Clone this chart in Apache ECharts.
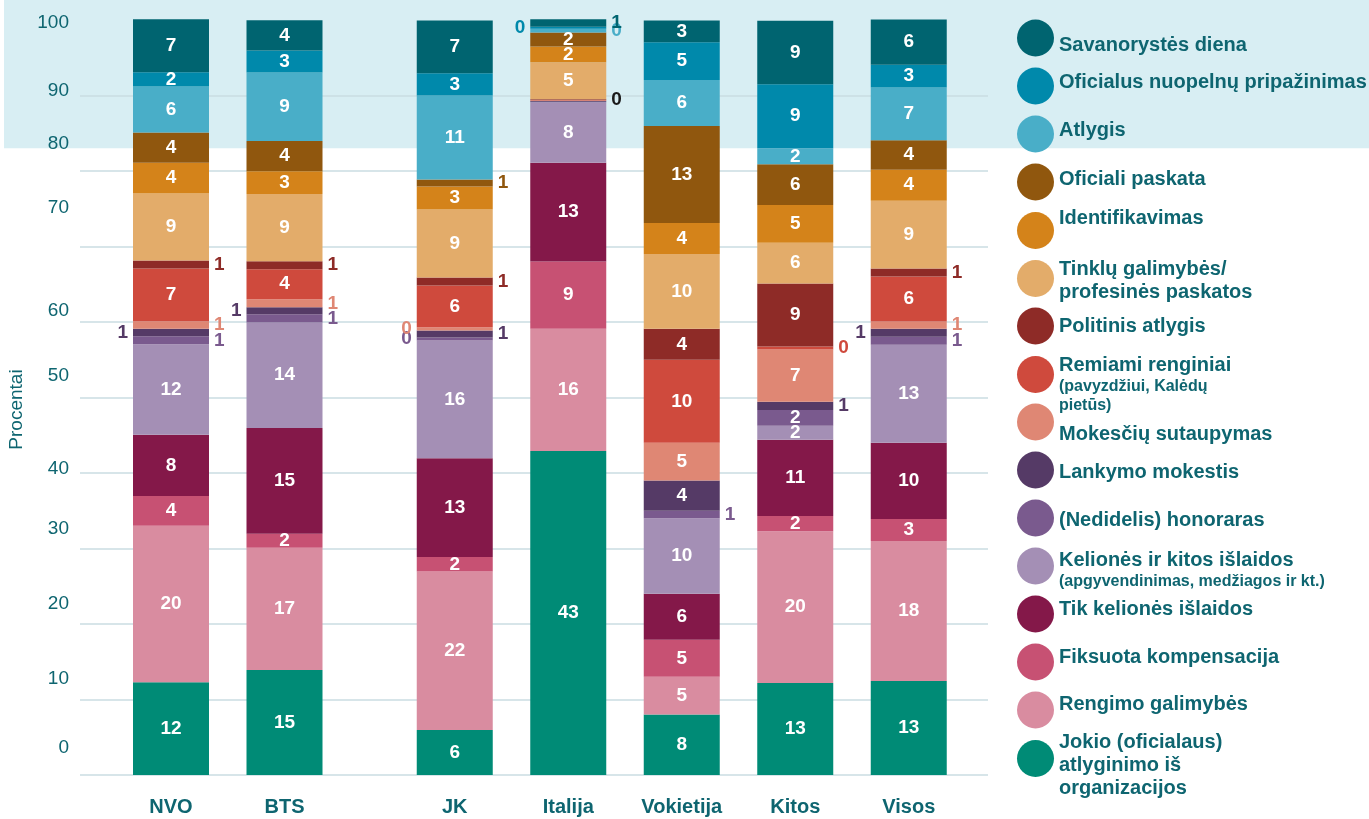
<!DOCTYPE html>
<html><head><meta charset="utf-8">
<script src="https://cdn.jsdelivr.net/npm/echarts@6/dist/echarts.min.js"></script>
<style>html,body{margin:0;padding:0;background:#fff}#c{width:1369px;height:819px}</style>
</head><body><div id="c"></div>
<script>
// ---------- DATA ----------
const categories = ['NVO', 'BTS', 'JK', 'Italija', 'Vokietija', 'Kitos', 'Visos'];
const groupSizes = [2, 5];
const yTicks = [0, 10, 20, 30, 40, 50, 60, 70, 80, 90, 100];
const bandFrom = 83;

// segment heights (percent), order = categories
const vSavanorystes = [7.0, 4.0, 7.0, 1.0, 2.9, 8.4, 6.0];
const vOficialus    = [1.9, 2.9, 2.95, 0.26, 5.0, 8.5, 3.0];
const vAtlygis      = [6.1, 9.1, 11.1, 0.5, 6.1, 2.1, 7.0];
const vPaskata      = [4.0, 4.0, 0.93, 1.85, 12.85, 5.4, 3.9];
const vIdentif      = [4.06, 3.0, 3.05, 2.1, 4.1, 5.0, 4.1];
const vTinklu       = [8.87, 8.9, 9.0, 4.9, 9.9, 5.4, 9.0];
const vPolitinis    = [1.06, 1.06, 1.06, 0.08, 4.1, 8.35, 1.06];
const vRemiami      = [7.0, 4.0, 5.56, 0.08, 11.0, 0.4, 5.96];
const vMokesciu     = [1.0, 1.06, 0.4, 0.08, 5.0, 6.9, 0.93];
const vLankymo      = [1.0, 0.93, 0.93, 0.08, 4.0, 1.1, 1.06];
const vHonoraras    = [1.05, 1.06, 0.4, 0.08, 1.0, 2.1, 1.06];
const vKelioniuKitos= [12.0, 14.0, 15.6, 8.0, 10.0, 1.85, 13.0];
const vTikKelioniu  = [8.08, 14.0, 13.1, 13.1, 6.1, 10.1, 10.1];
const vFiksuota     = [3.97, 1.85, 1.9, 8.9, 4.9, 2.0, 2.9];
const vRengimo      = [20.7, 16.2, 21.0, 16.2, 5.0, 20.1, 18.55];
const vJokio        = [12.3, 13.9, 5.96, 42.9, 8.0, 12.2, 12.45];

// printed labels, order = categories
const lSavanorystes = ['7', '4', '7', '1', '3', '9', '6'];
const lOficialus    = ['2', '3', '3', '0', '5', '9', '3'];
const lAtlygis      = ['6', '9', '11', '0', '6', '2', '7'];
const lPaskata      = ['4', '4', '1', '2', '13', '6', '4'];
const lIdentif      = ['4', '3', '3', '2', '4', '5', '4'];
const lTinklu       = ['9', '9', '9', '5', '10', '6', '9'];
const lPolitinis    = ['1', '1', '1', '0', '4', '9', '1'];
const lRemiami      = ['7', '4', '6', '', '10', '0', '6'];
const lMokesciu     = ['1', '1', '0', '', '5', '7', '1'];
const lLankymo      = ['1', '1', '1', '', '4', '1', '1'];
const lHonoraras    = ['1', '1', '0', '', '1', '2', '1'];
const lKelioniuKitos= ['12', '14', '16', '8', '10', '2', '13'];
const lTikKelioniu  = ['8', '15', '13', '13', '6', '11', '10'];
const lFiksuota     = ['4', '2', '2', '9', '5', '2', '3'];
const lRengimo      = ['20', '17', '22', '16', '5', '20', '18'];
const lJokio        = ['12', '15', '6', '43', '8', '13', '13'];

const seriesNames = ['Savanorystės diena', 'Oficialus nuopelnų pripažinimas', 'Atlygis', 'Oficiali paskata',
  'Identifikavimas', 'Tinklų galimybės/ profesinės paskatos', 'Politinis atlygis', 'Remiami renginiai',
  'Mokesčių sutaupymas', 'Lankymo mokestis', '(Nedidelis) honoraras', 'Kelionės ir kitos išlaidos',
  'Tik kelionės išlaidos', 'Fiksuota kompensacija', 'Rengimo galimybės', 'Jokio (oficialaus) atlyginimo iš organizacijos'];
const legendMainLines = {
  'Tinklų galimybės/ profesinės paskatos': ['Tinklų galimybės/', 'profesinės paskatos'],
  'Jokio (oficialaus) atlyginimo iš organizacijos': ['Jokio (oficialaus)', 'atlyginimo iš', 'organizacijos']
};
const legendSubLines = {
  'Remiami renginiai': ['(pavyzdžiui, Kalėdų', 'pietūs)'],
  'Kelionės ir kitos išlaidos': ['(apgyvendinimas, medžiagos ir kt.)']
};

// ---------- STYLE ----------
const F = '"Liberation Sans", Arial, Helvetica, sans-serif';
const T = '#0e6570';
const colors = ['#006470', '#0089ab', '#49aec8', '#90570e', '#d4831a', '#e3ac6a', '#8e2b27', '#cf4a3d',
  '#df8774', '#553a66', '#7a5a8e', '#a48fb5', '#841849', '#c75173', '#d98ca0', '#008b76'];
const values = [vSavanorystes, vOficialus, vAtlygis, vPaskata, vIdentif, vTinklu, vPolitinis, vRemiami,
  vMokesciu, vLankymo, vHonoraras, vKelioniuKitos, vTikKelioniu, vFiksuota, vRengimo, vJokio];
const labels = [lSavanorystes, lOficialus, lAtlygis, lPaskata, lIdentif, lTinklu, lPolitinis, lRemiami,
  lMokesciu, lLankymo, lHonoraras, lKelioniuKitos, lTikKelioniu, lFiksuota, lRengimo, lJokio];
const outsideLeft = ['Lankymo mokestis|NVO', 'Lankymo mokestis|BTS', 'Lankymo mokestis|Visos',
  'Mokesčių sutaupymas|JK', '(Nedidelis) honoraras|JK', 'Oficialus nuopelnų pripažinimas|Italija'];
const outsideColor = { 'Politinis atlygis|Italija': '#1a1a1a' };
const tickShift = {0: -27, 10: -21, 20: -20, 30: -20, 40: -4, 50: -22, 60: -11, 70: -39, 80: -27, 90: -5, 100: 3};
const legendTextShift = [7, -4, -4, -3, -12, 2, 0, 10, 12, 2, 2, 4, -5, -5, -6, 7];

// slots on the category axis: half-unit spacing, extra half gap between groups
const slots = [], slotOf = [];
let ci = 0;
groupSizes.forEach((n, gi) => {
  if (gi > 0) slots.push('');
  for (let k = 0; k < n; k++) {
    if (slots.length) slots.push('');
    slotOf.push(slots.length);
    slots.push(categories[ci++]);
  }
});

const yRich = {};
yTicks.forEach(v => {
  const d = tickShift[v] || 0;
  yRich['t' + v] = {fontSize: 19, color: T, fontFamily: F, lineHeight: 22,
    padding: [d > 0 ? 2 * d : 0, 0, d < 0 ? -2 * d : 0, 0]};
});

const series = [];
for (let si = seriesNames.length - 1; si >= 0; si--) {
  const name = seriesNames[si], vals = values[si], labs = labels[si], col = colors[si];
  series.push({
    name, type: 'bar', stack: 'all', xAxisIndex: 1, yAxisIndex: 1, barWidth: 76, clip: false,
    itemStyle: {color: col}, emphasis: {disabled: true}, z: 3,
    label: {show: true, position: 'inside', color: '#fff', fontSize: 19, fontWeight: 'bold', fontFamily: F,
      formatter: p => { const c = slotOf.indexOf(p.dataIndex); return c < 0 ? '' : labs[c]; }},
    data: slots.map((s, i) => {
      const c = slotOf.indexOf(i);
      if (c < 0) return '-';
      const item = {value: vals[c]};
      const key = name + '|' + categories[c];
      if (labs[c] !== '' && vals[c] < 1.5) {
        item.label = {position: outsideLeft.includes(key) ? 'left' : 'right',
          color: outsideColor[key] || col, distance: 5};
      }
      return item;
    })
  });
}

const legends = seriesNames.map((name, i) => {
  const main = legendMainLines[name] || [name];
  const sub = legendSubLines[name] || [];
  const text = main.map(l => '{m|' + l + '}').concat(sub.map(l => '{s|' + l + '}')).join('\n');
  const d = legendTextShift[i];
  const pad = [d > 0 ? 2 * d : 0, 0, d < 0 ? -2 * d : 0, 0];
  const contentH = main.length * 23 + sub.length * 19;
  const cy = 38 + i * 48;
  return {
    data: [name], left: 1017, top: cy - Math.max(18.5, contentH / 2 - d - 2), padding: 0, orient: 'vertical',
    icon: 'circle', itemWidth: 37, itemHeight: 37, selectedMode: false,
    formatter: () => text,
    textStyle: {fontSize: 20, fontFamily: F, color: T, padding: pad, rich: {
      m: {fontSize: 20, fontWeight: 'bold', color: T, lineHeight: 23, fontFamily: F},
      s: {fontSize: 16, fontWeight: 'bold', color: T, lineHeight: 19, fontFamily: F}
    }}
  };
});

const chart = echarts.init(document.getElementById('c'), null, {renderer: 'canvas'});
chart.setOption({
  animation: false,
  backgroundColor: '#ffffff',
  grid: [
    {left: 80, right: 381, top: 20, bottom: 44, outerBoundsMode: 'none'},
    {left: 142.625, right: 431.875, top: 20, bottom: 44, outerBoundsMode: 'none'}
  ],
  xAxis: [
    {type: 'value', gridIndex: 0, min: 0, max: 1, show: false},
    {type: 'category', gridIndex: 1, data: slots, axisLine: {show: false}, axisTick: {show: false},
      axisLabel: {interval: 0, margin: 22, color: T, fontSize: 20, fontWeight: 'bold', fontFamily: F}}
  ],
  yAxis: [
    {type: 'value', gridIndex: 0, min: 0, max: 100, interval: 10,
      name: 'Procentai', nameLocation: 'middle', nameGap: 53,
      nameTextStyle: {fontSize: 19, color: T, fontFamily: F, padding: [0, 24, 0, 0]},
      axisLine: {show: false}, axisTick: {show: false},
      axisLabel: {margin: 11, formatter: v => '{t' + v + '|' + v + '}', rich: yRich},
      splitLine: {show: true, showMaxLine: false, lineStyle: {color: '#cadde2', width: 1.5}}},
    {type: 'value', gridIndex: 1, min: 0, max: 100, show: false}
  ],
  legend: legends,
  series
});

const yb = chart.convertToPixel({yAxisIndex: 0}, bandFrom);
chart.setOption({
  graphic: [{type: 'rect', silent: true, z: -10,
    shape: {x: 4, y: 0, width: 1365, height: yb}, style: {fill: '#d8eef3'}}]
});
</script>
</body></html>
